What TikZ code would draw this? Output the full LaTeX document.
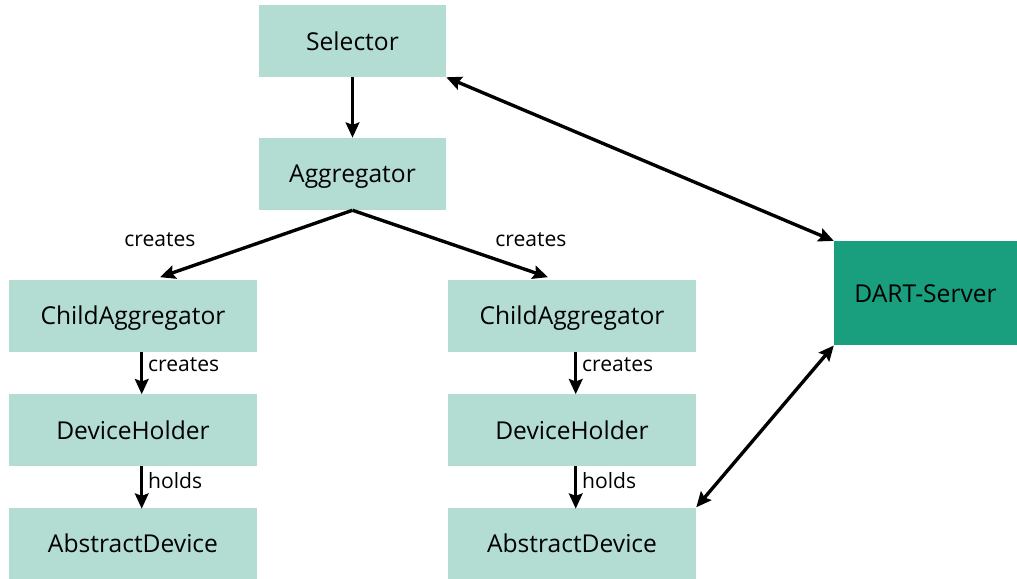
\documentclass[tikz,border=0pt]{standalone}
\usepackage{fontspec}
\setmainfont{Open Sans}
\usetikzlibrary{arrows.meta}
\definecolor{lightteal}{HTML}{B3DDD3}
\definecolor{darkteal}{HTML}{199E7E}
\begin{document}
\begin{tikzpicture}[
	box/.style={fill=lightteal, inner sep=0pt, text depth=0pt, minimum width=4.675cm, minimum height=1.8cm, font=\fontsize{17.5}{20}\selectfont},
	widebox/.style={box, minimum width=6.2cm},
	serverbox/.style={box, fill=darkteal, minimum width=4.575cm, minimum height=2.6cm},
	arr/.style={line width=2.4pt, -{Stealth[length=3.8mm, width=3.4mm, inset=0.6mm]}},
	darr/.style={line width=2.4pt, {Stealth[length=3.8mm, width=3.4mm, inset=0.6mm]}-{Stealth[length=3.8mm, width=3.4mm, inset=0.6mm]}},
	lbl/.style={font=\fontsize{15}{18}\selectfont}
	]
	\useasboundingbox (0,0) rectangle (25.425,-14.475);
	
	%Top of the chain
	\node[box] (Sel) at (8.8125,-1.025) {Selector};
	\node[box] (Agg) at (8.8125,-4.35) {Aggregator};
	
	%Left branch
	\node[widebox] (CA1) at (3.325,-7.89) {ChildAggregator};
	\node[widebox] (DH1) at (3.325,-10.75) {DeviceHolder};
	\node[widebox] (AD1) at (3.325,-13.59) {AbstractDevice};
	
	%Right branch
	\node[widebox] (CA2) at (14.3,-7.89) {ChildAggregator};
	\node[widebox] (DH2) at (14.3,-10.75) {DeviceHolder};
	\node[widebox] (AD2) at (14.3,-13.59) {AbstractDevice};
	
	%Server
	\node[serverbox] (DS) at (23.14,-7.33) {DART-Server};
	
	%Arrow ends
	\coordinate (CA1in) at (4.0,-6.93);
	\coordinate (CA2in) at (13.7,-6.93);
	\node[lbl] (C1) at (4.0,-6.0) {creates};
	\node[lbl] (C2) at (13.275,-6.0) {creates};
	
	%Arrows
	\draw[arr] (Sel.south) -- (Agg.north);
	\draw[arr] (Agg.south) -- (CA1in);
	\draw[arr] (Agg.south) -- (CA2in);
	
	\draw[arr] (CA1.south -| DH1.north west) ++(3.325,0) -- ++(0,-1.06) node[lbl, midway, right, yshift=6pt] {creates};
	\draw[arr] (DH1.south -| DH1.north west) ++(3.325,0) -- ++(0,-1.06) node[lbl, midway, right, yshift=5pt] {holds};
	\draw[arr] (CA2.south -| DH2.north west) ++(3.2,0) -- ++(0,-1.06) node[lbl, midway, right, yshift=6pt] {creates};
	\draw[arr] (DH2.south -| DH2.north west) ++(3.2,0) -- ++(0,-1.06) node[lbl, midway, right, yshift=5pt] {holds};
	
	\draw[darr] (Sel.south east) -- (DS.north west);
	\draw[darr] (DS.south west) -- (AD2.north east);
\end{tikzpicture}
\end{document}
